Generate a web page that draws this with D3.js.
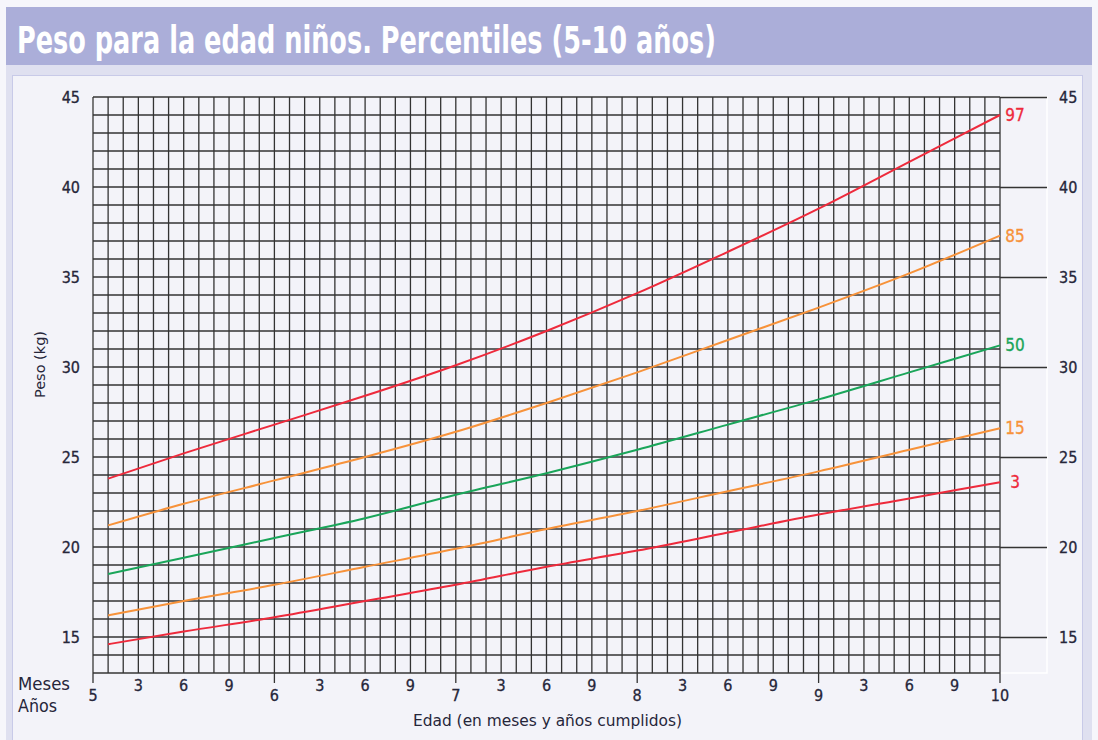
<!DOCTYPE html>
<html><head><meta charset="utf-8">
<script src="https://cdn.jsdelivr.net/npm/d3@7"></script>
<style>
html,body{margin:0;padding:0;background:#f6f6fb;}
svg text{font-family:'DejaVu Sans Condensed','Liberation Sans Narrow','Arial Narrow',sans-serif;}
</style></head>
<body><svg id="c" width="1098" height="740"></svg>
<script>
// ---- data ----
const ageMonths = [61, 66, 72, 78, 84, 90, 96, 102, 108, 114, 120];
const p97 = [23.8, 25.2, 26.8, 28.4, 30.1, 32.0, 34.1, 36.4, 38.8, 41.4, 44.0];
const p85 = [21.2, 22.4, 23.7, 25.0, 26.4, 28.0, 29.7, 31.5, 33.3, 35.2, 37.3];
const p50 = [18.5, 19.4, 20.5, 21.6, 22.9, 24.1, 25.4, 26.8, 28.2, 29.7, 31.2];
const p15 = [16.2, 17.0, 17.9, 18.9, 19.9, 21.0, 22.0, 23.1, 24.2, 25.4, 26.6];
const p3  = [14.6, 15.3, 16.1, 17.0, 17.9, 18.9, 19.8, 20.8, 21.8, 22.7, 23.6];
const seriesNames = ["97", "85", "50", "15", "3"];
const seriesColors = ["#ee2a3c", "#f7923a", "#1aa55a", "#f7923a", "#ee2a3c"];
const yTicks = [15, 20, 25, 30, 35, 40, 45];
const yearLabels = ["5", "6", "7", "8", "9", "10"];
const monthLabels = ["3", "6", "9"];
const titleText = "Peso para la edad niños. Percentiles (5-10 años)";
const yTitle = "Peso (kg)";
const xTitle = "Edad (en meses y años cumplidos)";

const svg = d3.select("#c");
const font = "'DejaVu Sans Condensed','Liberation Sans Narrow',sans-serif";
// backgrounds
svg.append("rect").attr("x",0).attr("y",0).attr("width",1098).attr("height",740).attr("fill","#f6f6fb");
svg.append("rect").attr("x",6).attr("y",7).attr("width",1086).attr("height",733).attr("fill","#dfe0f0");
svg.append("rect").attr("x",6).attr("y",7).attr("width",1086).attr("height",58).attr("fill","#abaed9");
svg.append("rect").attr("x",12.5).attr("y",75.5).attr("width",1070).attr("height",670).attr("fill","#f3f3f9").attr("stroke","#c8cae8").attr("stroke-width",1);
svg.append("text").attr("x",17).attr("y",53).attr("fill","#ffffff").attr("font-weight","bold")
  .attr("font-size",37).attr("textLength",699).attr("lengthAdjust","spacingAndGlyphs").text(titleText);

const x = d3.scaleLinear().domain([60,120]).range([93,1000]);
const y = d3.scaleLinear().domain([13,45]).range([673,97]);

// white frame
svg.append("rect").attr("x",93).attr("y",97).attr("width",954).attr("height",576)
  .attr("fill","none").attr("stroke","#ffffff").attr("stroke-width",1.5);

const grid = svg.append("g").attr("stroke","#333333").attr("stroke-width",1.3);
grid.selectAll("line.v").data(d3.range(60,121)).join("line")
  .attr("x1",d=>x(d)).attr("x2",d=>x(d)).attr("y1",y(45)).attr("y2",y(13));
grid.selectAll("line.h").data(d3.range(13,46)).join("line")
  .attr("x1",x(60)).attr("x2",x(120)).attr("y1",d=>y(d)).attr("y2",d=>y(d));

const tickColor = "#26263a";
// left axis
const left = svg.append("g").attr("transform",`translate(${x(60)-13},0)`)
  .call(d3.axisLeft(y).tickValues(yTicks).tickSize(0).tickPadding(0));
left.select(".domain").remove();
left.selectAll("text").attr("font-size",16).attr("fill",tickColor).attr("font-family",font)
  .attr("stroke",tickColor).attr("stroke-width",0.3);
// right axis
const right = svg.append("g").attr("transform",`translate(${x(120)},0)`)
  .call(d3.axisRight(y).tickValues(yTicks).tickSize(47).tickPadding(12));
right.select(".domain").remove();
right.selectAll("line").attr("stroke","#333333").attr("stroke-width",1.3);
right.selectAll("text").attr("font-size",16).attr("fill",tickColor).attr("font-family",font)
  .attr("stroke",tickColor).attr("stroke-width",0.3);

// bottom: year ticks
const years = yearLabels.map((d,i)=>60+12*i);
const bottom = svg.append("g");
bottom.selectAll("line").data(years).join("line")
  .attr("x1",d=>x(d)).attr("x2",d=>x(d)).attr("y1",y(13)).attr("y2",y(13)+10)
  .attr("stroke","#333333").attr("stroke-width",1.3);
bottom.selectAll("text.yr").data(yearLabels).join("text").attr("class","yr")
  .attr("x",(d,i)=>x(years[i])).attr("y",701).attr("text-anchor","middle")
  .attr("font-size",16).attr("fill",tickColor).attr("stroke",tickColor).attr("stroke-width",0.3).text(d=>d);
const monthTicks = [];
for (let i=0;i<5;i++) monthLabels.forEach(m=>monthTicks.push({v:60+12*i+ +m, t:m}));
bottom.selectAll("text.mo").data(monthTicks).join("text").attr("class","mo")
  .attr("x",d=>x(d.v)).attr("y",691).attr("text-anchor","middle")
  .attr("font-size",16).attr("fill",tickColor).attr("stroke",tickColor).attr("stroke-width",0.3).text(d=>d.t);
svg.append("text").attr("x",18).attr("y",690).attr("font-size",17).attr("fill",tickColor)
  .attr("textLength",52).attr("lengthAdjust","spacingAndGlyphs").text("Meses");
svg.append("text").attr("x",18).attr("y",712).attr("font-size",17).attr("fill",tickColor)
  .attr("textLength",39).attr("lengthAdjust","spacingAndGlyphs").text("Años");
svg.append("text").attr("x",413).attr("y",726).attr("font-size",16)
  .attr("fill",tickColor).attr("textLength",269).attr("lengthAdjust","spacingAndGlyphs").text(xTitle);
svg.append("text").attr("transform","translate(45,398) rotate(-90)")
  .attr("font-size",14).attr("fill",tickColor).attr("textLength",67).attr("lengthAdjust","spacingAndGlyphs").text(yTitle);

// curves
const allSeries = [p97,p85,p50,p15,p3];
const line = d3.line().x((d,i)=>x(ageMonths[i])).y(d=>y(d)).curve(d3.curveMonotoneX);
svg.append("g").selectAll("path").data(allSeries).join("path")
  .attr("d",line).attr("fill","none").attr("stroke",(d,i)=>seriesColors[i]).attr("stroke-width",2);
svg.append("g").selectAll("text").data(allSeries).join("text")
  .attr("x",x(120)+15).attr("y",d=>y(d[d.length-1])+6).attr("text-anchor","middle")
  .attr("font-size",17).attr("fill",(d,i)=>seriesColors[i])
  .attr("stroke",(d,i)=>seriesColors[i]).attr("stroke-width",0.3)
  .text((d,i)=>seriesNames[i]);
</script></body></html>
